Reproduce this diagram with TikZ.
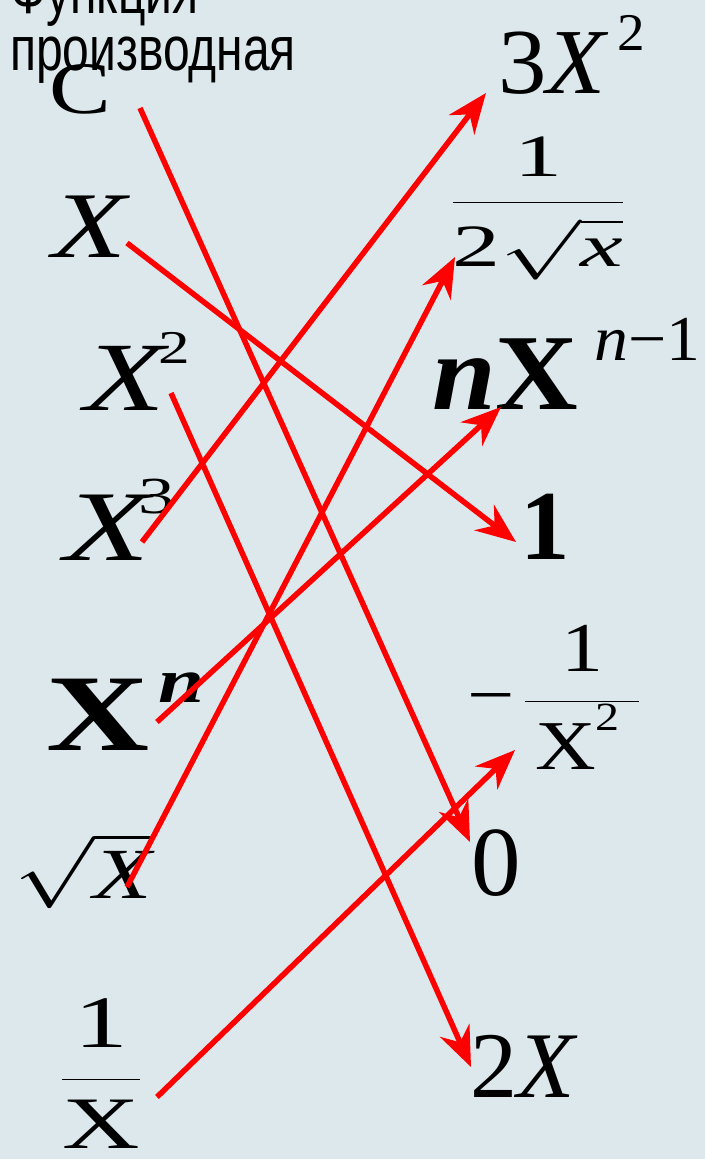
\RequirePackage{fix-cm}
\documentclass[tikz,border=0pt]{standalone}
\usepackage{amsmath}
\usepackage{fontspec}
\setmainfont{Liberation Serif}
\newfontfamily\sansf{Liberation Sans}
\usetikzlibrary{arrows.meta}
\definecolor{bgc}{RGB}{221,232,237}
\definecolor{arr}{RGB}{255,0,0}
\tikzset{
  fs/.style={font=\fontsize{#1}{#1}\selectfont},
  lbl/.style={inner sep=0pt, outer sep=0pt, text=black},
  ttl/.style={lbl, font=\sansf\fontsize{48}{48}\selectfont, yscale=1.3, anchor=base west},
  conn/.style={draw=arr, line width=5.5pt, -{Stealth[length=40pt,width=32pt,inset=13pt]}},
}
\begin{document}
\begin{tikzpicture}[x=1pt,y=-1pt]
\fill[bgc] (0,0) rectangle (705,1159);
\useasboundingbox (0,0) rectangle (705,1159);
% title
\node[ttl] (t1) at (10,13) {Функция};
\node[ttl] (t2) at (10,70) {производная};
% left column
\node[lbl, fs=74, xscale=1.25, anchor=base west] (nC) at (49,113) {C};
\node[lbl, fs=94, xscale=1.29, anchor=base west] (nX) at (52,257) {\itshape X};
\node[lbl, fs=98, xscale=1.35, anchor=base west] (nX2) at (84,410) {\itshape X\kern-5pt\raisebox{47pt}{\upshape\fontsize{47}{47}\selectfont 2}};
\node[lbl, fs=100, xscale=1.4, anchor=base west] (nX3) at (64,560) {\itshape X\kern-8pt\raisebox{47pt}{\upshape\fontsize{52}{52}\selectfont 3}};
\node[lbl, fs=109, xscale=1.31, anchor=base west] (nXn) at (46,750) {\bfseries X\kern7pt\raisebox{48pt}{\bfseries\itshape\fontsize{63}{63}\selectfont n}};
\node[lbl, fs=72, xscale=1.33, anchor=base west] (nsq) at (14,898) {$\sqrt{\text{\itshape X}}$};
\node[lbl, fs=74, xscale=1.45, anchor=base] (n1x) at (101,1097.5) {$\dfrac{\text{1}}{\text{X}}$};
% right column
\node[lbl, fs=93, xscale=1.04, anchor=base west] (n3X2) at (498,93) {3\itshape X\kern12pt\raisebox{43pt}{\upshape\fontsize{53}{53}\selectfont 2}};
\node[lbl, fs=60, xscale=1.6, anchor=base] (nfr) at (538,217) {$\dfrac{\text{1}}{\raisebox{-8pt}{$\text{2}\sqrt{\text{\itshape x}}$}}$};
\node[lbl, fs=108, xscale=1.06, anchor=base west] (nnX) at (432,409) {{\bfseries\itshape n}{\bfseries X}\kern15pt\raisebox{49pt}{\fontsize{64}{64}\selectfont\itshape n\upshape −1}};
\node[lbl, fs=99, anchor=base west] (n1) at (520,559) {\bfseries 1};
\node[lbl, fs=70, xscale=1.2, anchor=base west] (nm) at (467,718.5) {$\text{−\kern8pt}\dfrac{\text{1}}{\text{\kern8pt X\raisebox{0.55em}{\fontsize{40}{40}\selectfont 2}\kern16pt}}$};
\node[lbl, fs=99, anchor=base west] (n0) at (471,895) {0};
\node[lbl, fs=94, anchor=base west] (n2X) at (470,1097) {2\itshape X};
% connectors
\draw[conn] ([shift={(91,-5)}]nC.base west) -- ([shift={(-1,-53)}]n0.base west);
\draw[conn] ([shift={(75,-14)}]nX.base west) -- ([shift={(-4,-17)}]n1.base west);
\draw[conn] ([shift={(87,-17)}]nX2.base west) -- ([shift={(1,-30)}]n2X.base west);
\draw[conn] ([shift={(78,-18)}]nX3.base west) -- ([shift={(-12,0)}]n3X2.base west);
\draw[conn] ([shift={(111,-28)}]nXn.base west) -- ([shift={(69,-2)}]nnX.base west);
\draw[conn] ([shift={(113,-11)}]nsq.base west) -- ([shift={(-83,40)}]nfr.base);
\draw[conn] ([shift={(56,-0.5)}]n1x.base) -- ([shift={(48,31.5)}]nm.base west);
\end{tikzpicture}
\end{document}
